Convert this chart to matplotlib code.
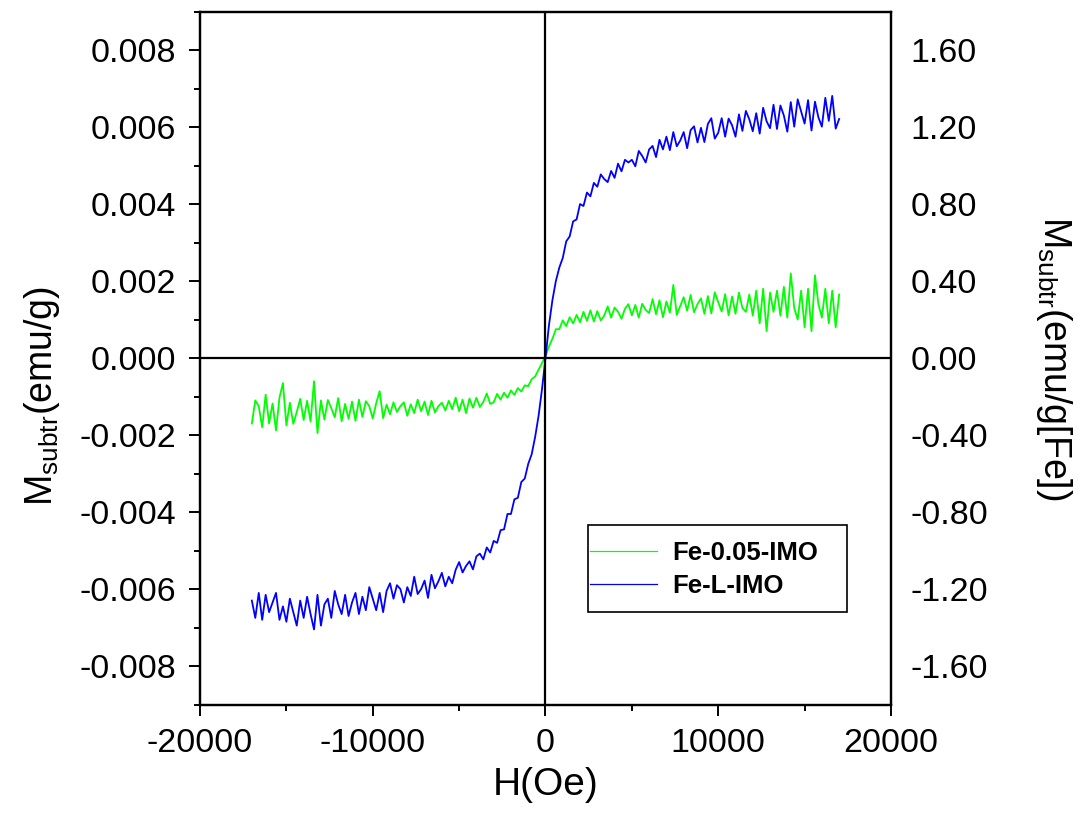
import matplotlib
matplotlib.use("Agg")
import matplotlib.pyplot as plt
import numpy as np
from matplotlib.lines import Line2D
from matplotlib.patches import Rectangle

plt.rcParams['font.family'] = ['Liberation Sans', 'DejaVu Sans']
plt.rcParams['mathtext.fontset'] = 'custom'
plt.rcParams['mathtext.rm'] = 'Liberation Sans'
plt.rcParams['axes.unicode_minus'] = False

# campo aplicado (Oe), passo de 200 Oe
H = np.arange(-17000, 17001, 200)

# Fe-0.05-IMO, M em unidades de 1e-4 emu/g
m_fe005 = [
    -17, -11, -12.5, -18, -9.5, -17, -11.8, -18.8, -10.3, -6.5,
    -17.5, -11.6, -17.1, -14, -10.6, -16.1, -11.1, -16.5, -6, -19.5,
    -11, -16, -10.9, -13, -15.4, -10.4, -16.4, -11.9, -15.8, -11.3,
    -16.3, -10.8, -15.3, -11.2, -12.5, -15.7, -11.7, -8.6, -15.6, -12.1,
    -14.6, -11.5, -14, -12.5, -11.5, -15, -12, -14.3, -10.8, -13.8,
    -11.3, -14.8, -11.1, -14.1, -12.5, -11.6, -13.6, -11.1, -13.3, -10.3,
    -13.8, -10.8, -14.3, -10.5, -12.9, -10.3, -12.7, -11.4, -9.2, -11.9,
    -11.5, -9.3, -10.8, -9, -10.3, -8.4, -9.6, -7.8, -8.7, -7.1,
    -7.3, -5.5, -4.8, -3, -1.3, 0.5, 3, 5, 7.5, 7.5,
    9.8, 8.3, 10.6, 9, 11.2, 9.3, 12, 9.7, 12.4, 9.5,
    12.2, 9.8, 11, 13.4, 10.5, 13.1, 12, 10.2, 12.8, 14,
    11.1, 13.8, 10.5, 14.1, 12.5, 11.7, 15.3, 11.4, 15, 10.6,
    14.7, 11.8, 19, 11.2, 13.5, 15.8, 12.3, 16.4, 11.9, 14,
    15.5, 11.5, 16.1, 11.6, 17.1, 14.5, 12.1, 16.6, 11.1, 16,
    11.5, 17, 13, 12, 16.5, 11, 17.5, 9, 18, 7,
    17, 12, 17.5, 11, 18.5, 10.5, 22, 13, 10, 17.5,
    8, 18, 7, 21.5, 14, 10.5, 18, 9, 17.5, 8,
    16.5,
]

# Fe-L-IMO, M em unidades de 1e-4 emu/g
m_fel = [
    -63, -67.5, -61, -68, -61.5, -66, -63.5, -61, -68, -64.5,
    -68.5, -62.5, -66, -69.5, -63, -67.5, -62, -66.5, -70.5, -61.5,
    -69.5, -64, -62.5, -67.5, -60.5, -64, -66.5, -61.5, -67, -63.5,
    -61, -66.5, -62, -65.5, -59.5, -62.5, -65.5, -61, -66, -60.5,
    -58.5, -62.5, -59, -60, -63.5, -59.5, -61.8, -56.8, -61.3, -60,
    -57.8, -62.3, -56.3, -59.8, -58, -55.8, -59.3, -56.8, -58.5, -55,
    -53, -55.7, -54, -52.8, -54.9, -51.5, -50.8, -52.3, -49.2, -50.5,
    -47.5, -48, -44.7, -44.5, -40.5, -40.5, -36.7, -36.3, -32.2, -31.3,
    -27.5, -25, -20.5, -15, -8, 0, 8.5, 15, 20, 23.5,
    26, 30.3, 31.6, 35.5, 36, 40, 39.5, 43, 42, 45.5,
    44.5, 47.7, 46.5, 45.7, 48.6, 46.8, 50.5, 48.5, 51.5, 50.8,
    51.5, 49.8, 53.8, 52.5, 50.8, 54.2, 55.1, 52.2, 56.7, 54.2,
    57.5, 54, 58.7, 55, 56.5, 58.7, 54.5, 59.2, 60.2, 56,
    59.8, 56.1, 60.8, 62.3, 57, 58.5, 62.3, 57.5, 62.2, 60.5,
    57.5, 63.3, 59, 64.2, 62, 58.9, 63.6, 58.3, 65, 61.5,
    59.7, 65.8, 59.5, 65.6, 63, 58.8, 66.5, 60.1, 67.2, 64,
    60.9, 67, 59.1, 66.6, 62.5, 60.1, 67.6, 61.6, 68.1, 59.6,
    62.1,
]

labels = ['Fe-0.05-IMO', 'Fe-L-IMO']
cores = ['#00ff00', '#0000ff']

fig = plt.figure(figsize=(10.9, 8.32), dpi=100)
ax = fig.add_axes([0.1835, 0.1532, 0.6339, 0.8329])

ax.plot(H, np.array(m_fe005) * 1e-4, color=cores[0], lw=1.3)
ax.plot(H, np.array(m_fel) * 1e-4, color=cores[1], lw=1.3)
ax.axhline(0, color='black', lw=1.6)
ax.axvline(0, color='black', lw=1.6)

ax.set_xlim(-20000, 20000)
ax.set_ylim(-0.009, 0.009)
ax.set_xticks([-20000, -10000, 0, 10000, 20000])
ax.set_xticks(np.arange(-20000, 20001, 5000), minor=True)
ax.set_yticks(np.arange(-0.008, 0.0081, 0.002))
ax.set_yticks(np.arange(-0.009, 0.0091, 0.001), minor=True)
ax.yaxis.set_major_formatter(plt.FuncFormatter(lambda v, p: f"{v:.3f}".replace("-0.000", "0.000")))
ax.tick_params(which='major', direction='out', length=8, width=1.4, labelsize=24.5, pad=9, top=False, right=False)
ax.tick_params(which='minor', direction='out', length=4, width=1.4, top=False, right=False)
for s in ax.spines.values():
    s.set_linewidth(1.6)

ax.set_xlabel('H(Oe)', fontsize=28, labelpad=6)
ax.set_ylabel(r'M$_{\mathregular{subtr}}$(emu/g)', fontsize=27)
ax.yaxis.set_label_coords(-0.2, 0.445)

# eixo da direita em emu/g[Fe]
ax2 = ax.twinx()
ax2.set_ylim(-1.8, 1.8)
ax2.set_yticks(np.arange(-1.6, 1.61, 0.4))
ax2.yaxis.set_major_formatter(plt.FuncFormatter(lambda v, p: f"{v:.2f}".replace("-0.00", "0.00")))
ax2.tick_params(axis='y', length=0, labelsize=24.5, pad=14)
for s in ax2.spines.values():
    s.set_linewidth(1.6)
ax2.set_ylabel(r'M$_{\mathregular{subtr}}$(emu/g[Fe])', fontsize=27, rotation=270, labelpad=62)

# legenda com moldura desenhada à parte
handles = [Line2D([], [], color=c, lw=0.9) for c in cores]
leg = ax.legend(handles, labels, loc='center left', bbox_to_anchor=(0.5644, 0.195),
                frameon=False, borderaxespad=0, borderpad=0, handlelength=2.6,
                handletextpad=0.6, labelspacing=0.35, prop={'size': 18.5, 'weight': 'bold'})
ax.add_patch(Rectangle((0.5615, 0.1335), 0.3748, 0.1255, transform=ax.transAxes,
                       fill=False, lw=1.2, edgecolor='black', zorder=5))

fig.savefig('out.png', dpi=100)
